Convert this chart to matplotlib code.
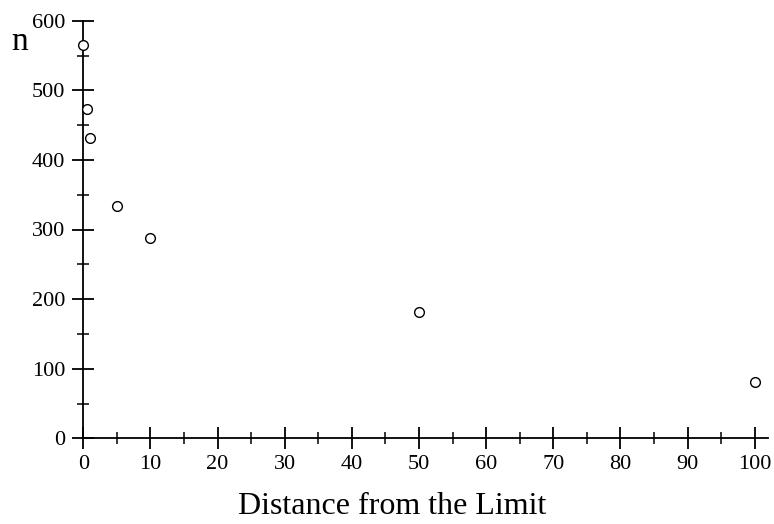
import matplotlib
matplotlib.use("Agg")
import matplotlib.pyplot as plt
from matplotlib.ticker import MultipleLocator

# Measurements: distance from the limit vs. n
distance = [0, 0.5, 1, 5, 10, 50, 100]
n_values = [565, 473, 432, 334, 288, 181, 81]

x_ticks = [0, 10, 20, 30, 40, 50, 60, 70, 80, 90, 100]
y_ticks = [0, 100, 200, 300, 400, 500, 600]

plt.rcParams["font.family"] = ["Liberation Serif", "DejaVu Serif"]

fig = plt.figure(figsize=(7.74, 5.24), dpi=100)
ax = fig.add_axes([83.3 / 774, 1 - 438.3 / 524, 684.8 / 774, 417.6 / 524])

ax.plot(distance, n_values, linestyle="none", marker="o", markersize=7,
        markerfacecolor="white", markeredgecolor="black", markeredgewidth=1.0,
        clip_on=False, zorder=5)

ax.set_xlim(0, 102)
ax.set_ylim(0, 600)

for side in ("top", "right"):
    ax.spines[side].set_visible(False)
for side in ("left", "bottom"):
    ax.spines[side].set_linewidth(1.3)
    ax.spines[side].set_color("black")

ax.set_xticks(x_ticks)
ax.set_yticks(y_ticks)
ax.xaxis.set_minor_locator(MultipleLocator(5))
ax.yaxis.set_minor_locator(MultipleLocator(50))

ax.tick_params(which="major", direction="inout", length=16, width=1.3,
               labelsize=16, colors="black")
ax.tick_params(which="minor", direction="inout", length=8, width=1.1)
ax.tick_params(axis="x", which="major", pad=4)
ax.tick_params(axis="y", which="major", pad=5)
for lbl in ax.get_yticklabels():
    lbl.set_verticalalignment("center_baseline")

fig.text(392 / 774, 1 - 507 / 524, "Distance from the Limit", fontsize=23,
         ha="center", va="center")
fig.text(20 / 774, 1 - 42 / 524, "n", fontsize=24, ha="center", va="center")

fig.savefig("out.png", dpi=100)
